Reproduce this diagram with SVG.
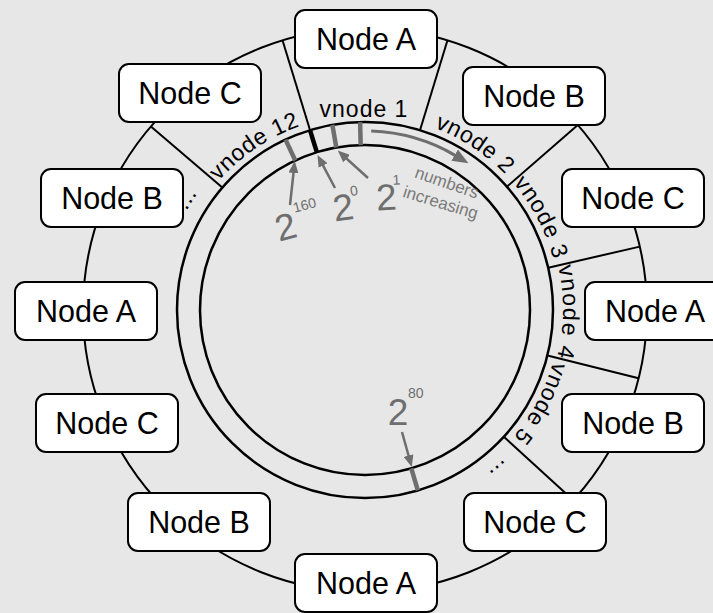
<svg xmlns="http://www.w3.org/2000/svg" width="713" height="613" viewBox="0 0 713 613">
  <style>
    .node rect { fill: #ffffff; stroke: #000000; stroke-width: 2; }
    .node text { font-family: "Liberation Sans", Arial, Helvetica, sans-serif; font-size: 30.5px; fill: #000000; text-anchor: middle; }
    .ring { fill: none; stroke: #000000; }
    .spoke { stroke: #000000; stroke-width: 2; fill: none; }
    .vlabel { font-family: "Liberation Sans", Arial, Helvetica, sans-serif; font-size: 23px; letter-spacing: 0.6px; fill: #000000; }
    .tick { stroke: #6e6e6e; stroke-width: 4.5; stroke-linecap: butt; }
    .ptr { stroke: #6e6e6e; stroke-width: 2.5; fill: none; marker-end: url(#head); }
    .pow { font-family: "Liberation Sans", Arial, Helvetica, sans-serif; fill: #6e6e6e; }
    .base { font-size: 37px; text-anchor: middle; }
    .exp { font-size: 14px; }
    .note { font-family: "Liberation Sans", Arial, Helvetica, sans-serif; font-size: 17px; fill: #7a7a7a; text-anchor: middle; }
  </style>
  <defs>
    <marker id="head" viewBox="0 0 12 10" markerWidth="12" markerHeight="10" refX="1" refY="5" orient="auto" markerUnits="userSpaceOnUse">
      <path d="M0,0 L12,5 L0,10 z" fill="#6e6e6e"/>
    </marker>
    <marker id="bighead" viewBox="0 0 16 13" markerWidth="16" markerHeight="13" refX="1" refY="6.5" orient="auto" markerUnits="userSpaceOnUse">
      <path d="M0,0 L16,6.5 L0,13 z" fill="#6e6e6e"/>
    </marker>
    <!-- clockwise circles (starting at the bottom) used as baselines for the ring labels -->
    <path id="labelRing" d="M365,505 A195,195 0 1 1 365,115 A195,195 0 1 1 365,505"/>
    <path id="labelRingWide" d="M365,508 A198,198 0 1 1 365,112 A198,198 0 1 1 365,508"/>
    <path id="dotRing" d="M365,514 A204,204 0 1 1 365,106 A204,204 0 1 1 365,514"/>
  </defs>

  <rect x="0" y="0" width="713" height="613" fill="#e7e7e7"/>

  <!-- rings -->
  <g id="rings">
    <circle class="ring" cx="365" cy="310" r="282" stroke-width="2"/>
    <circle class="ring" cx="365" cy="310" r="188" stroke-width="2.5"/>
    <circle class="ring" cx="365" cy="310" r="165" stroke-width="2.5"/>
  </g>

  <!-- connectors: vnode boundaries running out to the physical nodes -->
  <g id="connectors">
    <line class="spoke" x1="222.3" y1="187.6" x2="150.9" y2="126.5"/>
    <line class="spoke" x1="316.8" y1="152.2" x2="282.5" y2="40.3"/>
    <line class="spoke" x1="420.0" y1="130.2" x2="447.5" y2="40.3"/>
    <line class="spoke" x1="506.9" y1="186.7" x2="577.8" y2="125.0"/>
    <line class="spoke" x1="548.2" y1="267.7" x2="639.8" y2="246.6"/>
    <line class="spoke" x1="547.4" y1="355.5" x2="638.6" y2="378.2"/>
    <line class="spoke" x1="503.8" y1="436.8" x2="573.3" y2="500.2"/>
    <!-- origin of the hash space -->
    <line x1="316.8" y1="152.2" x2="310.0" y2="130.2" stroke="#000000" stroke-width="4.5"/>
  </g>

  <!-- hash positions on the token ring -->
  <g id="ticks">
    <line class="tick" x1="295.3" y1="160.5" x2="285.5" y2="139.6"/>
    <line class="tick" x1="336.3" y1="147.5" x2="332.4" y2="124.9"/>
    <line class="tick" x1="360.7" y1="145.1" x2="360.1" y2="122.1"/>
    <line class="tick" x1="411.3" y1="468.4" x2="417.8" y2="490.4"/>
  </g>

  <!-- pointers to the positions -->
  <g id="pointers">
    <line class="ptr" x1="290" y1="205" x2="293.6" y2="172"/>
    <line class="ptr" x1="335" y1="188" x2="322.6" y2="164.6"/>
    <line class="ptr" x1="368" y1="178" x2="345.9" y2="158"/>
    <line class="ptr" x1="402" y1="432" x2="408.8" y2="456.5"/>
    <path d="M371.2,131.1 A179,179 0 0 1 455.5,155.6" fill="none" stroke="#6e6e6e" stroke-width="3" marker-end="url(#bighead)"/>
  </g>

  <!-- powers of two -->
  <g id="powers" class="pow">
    <g transform="translate(289,239) rotate(-15)">
      <text class="base" x="0" y="0">2</text>
      <text class="exp" x="12" y="-24">160</text>
    </g>
    <g transform="translate(345,220) rotate(-8)">
      <text class="base" x="0" y="0">2</text>
      <text class="exp" x="9" y="-23">0</text>
    </g>
    <g transform="translate(387,210) rotate(-3)">
      <text class="base" x="0" y="0">2</text>
      <text class="exp" x="7" y="-25">1</text>
    </g>
    <g transform="translate(398,425)">
      <text class="base" x="0" y="0">2</text>
      <text class="exp" x="10" y="-27">80</text>
    </g>
  </g>

  <text class="note" x="445" y="188" transform="rotate(19 445 188)">numbers</text>
  <text class="note" x="439" y="208" transform="rotate(17 439 208)">increasing</text>

  <!-- vnode labels -->
  <g id="vnode-labels" class="vlabel">
    <text x="364" y="117" text-anchor="middle" letter-spacing="1">vnode 1</text>
    <text text-anchor="middle"><textPath href="#labelRing" startOffset="40.56%">vnode 12</textPath></text>
    <text text-anchor="middle"><textPath href="#labelRing" startOffset="59.31%">vnode 2</textPath></text>
    <text text-anchor="middle"><textPath href="#labelRing" startOffset="67.3%" letter-spacing="0.8">vnode 3</textPath></text>
    <text text-anchor="middle"><textPath href="#labelRingWide" startOffset="75.2%" letter-spacing="1.6">vnode 4</textPath></text>
    <text text-anchor="middle"><textPath href="#labelRing" startOffset="82.78%">vnode 5</textPath></text>
    <text text-anchor="middle"><textPath href="#dotRing" startOffset="33.89%">...</textPath></text>
    <text text-anchor="middle"><textPath href="#dotRing" startOffset="88.89%">...</textPath></text>
  </g>

  <!-- physical nodes -->
  <g id="node-a-top" class="node"><rect x="295" y="10" width="142" height="58" rx="10"/><text x="366" y="50">Node A</text></g>
  <g id="node-c-topleft" class="node"><rect x="119" y="64" width="142" height="58" rx="10"/><text x="190" y="104">Node C</text></g>
  <g id="node-b-topright" class="node"><rect x="463" y="67" width="142" height="58" rx="10"/><text x="534" y="107">Node B</text></g>
  <g id="node-b-left" class="node"><rect x="41" y="169" width="142" height="58" rx="10"/><text x="112" y="209">Node B</text></g>
  <g id="node-c-right" class="node"><rect x="562" y="169" width="142" height="58" rx="10"/><text x="633" y="209">Node C</text></g>
  <g id="node-a-left" class="node"><rect x="15" y="282" width="142" height="58" rx="10"/><text x="86" y="322">Node A</text></g>
  <g id="node-a-right" class="node"><rect x="585" y="282" width="142" height="58" rx="10"/><text x="655" y="322">Node A</text></g>
  <g id="node-c-left" class="node"><rect x="36" y="394" width="142" height="58" rx="10"/><text x="107" y="434">Node C</text></g>
  <g id="node-b-right" class="node"><rect x="562" y="394" width="142" height="58" rx="10"/><text x="633" y="434">Node B</text></g>
  <g id="node-b-bottomleft" class="node"><rect x="128" y="493" width="142" height="58" rx="10"/><text x="199" y="533">Node B</text></g>
  <g id="node-c-bottomright" class="node"><rect x="464" y="493" width="142" height="58" rx="10"/><text x="535" y="533">Node C</text></g>
  <g id="node-a-bottom" class="node"><rect x="295" y="554" width="142" height="58" rx="10"/><text x="366" y="594">Node A</text></g>
</svg>
